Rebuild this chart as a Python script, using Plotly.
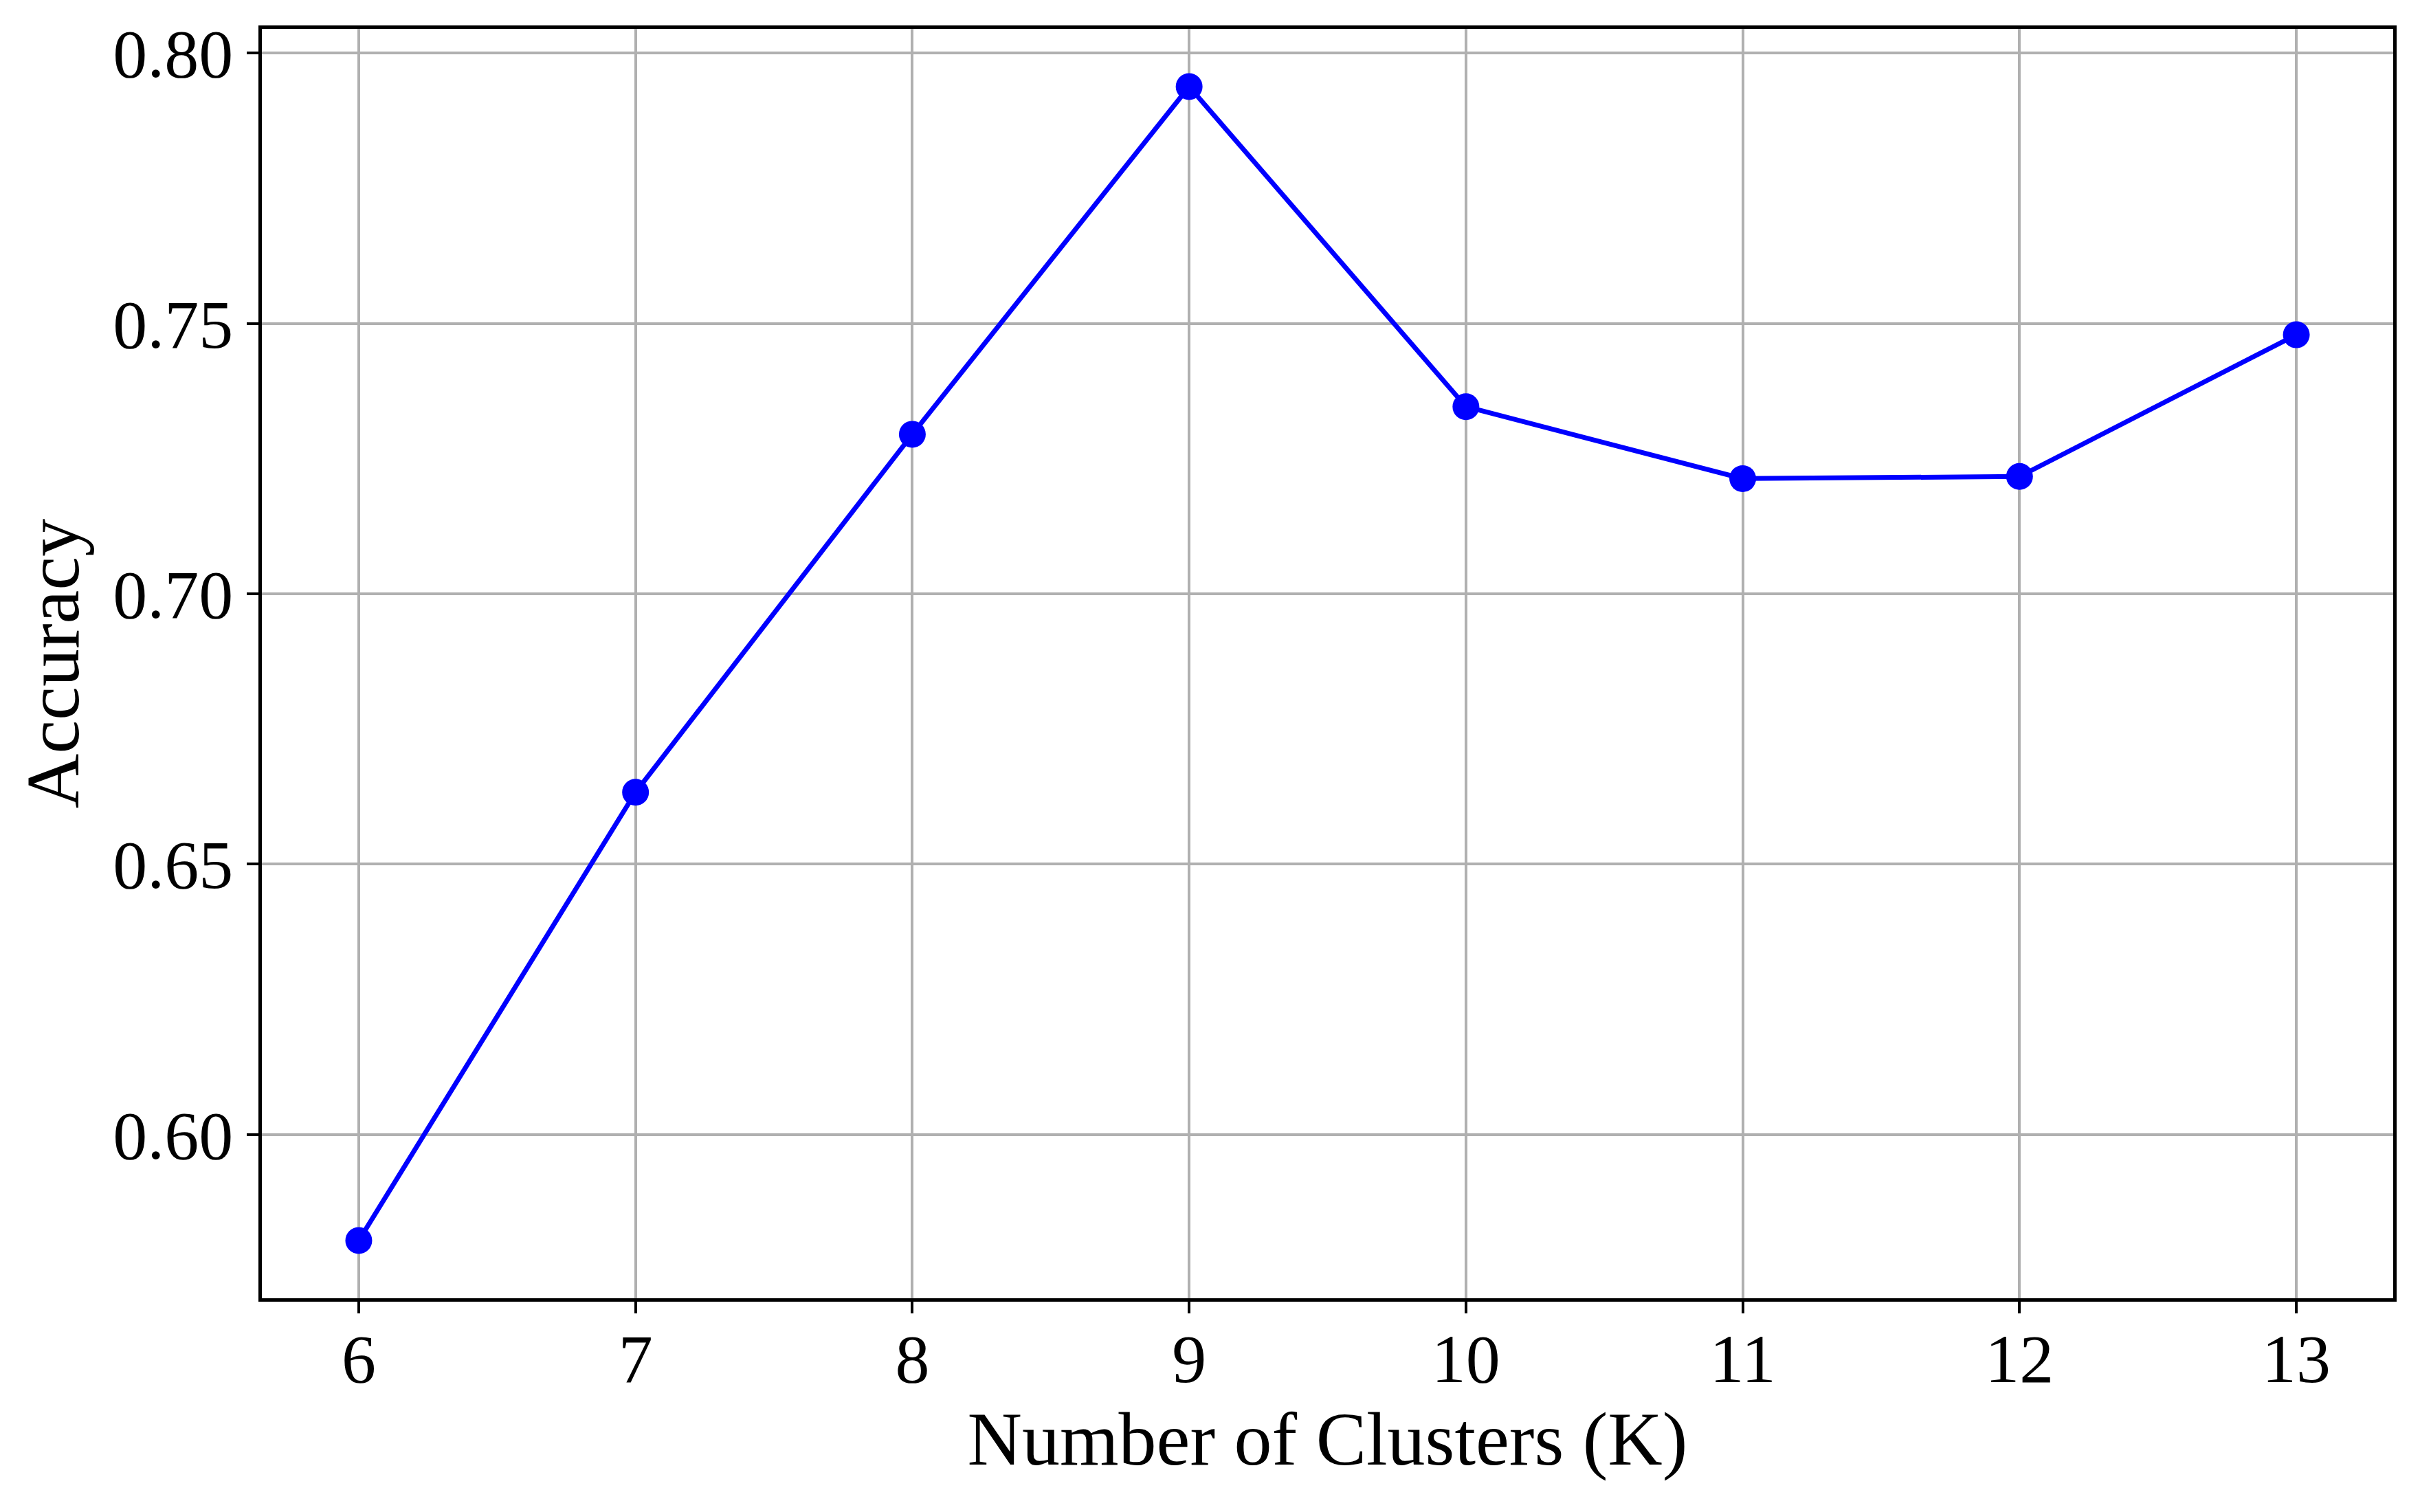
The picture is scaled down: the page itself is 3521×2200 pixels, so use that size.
import plotly.graph_objects as go

clusters = [6, 7, 8, 9, 10, 11, 12, 13]
accuracy = [0.5804, 0.6633, 0.7295, 0.7938, 0.7346, 0.7213, 0.7217, 0.7479]
x_ticks = [6, 7, 8, 9, 10, 11, 12, 13]
y_ticks = [0.60, 0.65, 0.70, 0.75, 0.80]
y_tick_labels = ["0.60", "0.65", "0.70", "0.75", "0.80"]

FONT = "Liberation Serif, DejaVu Serif, serif"

fig = go.Figure()
fig.add_trace(go.Scatter(
    x=clusters, y=accuracy, mode="lines+markers",
    line=dict(color="#0000ff", width=7),
    marker=dict(color="#0000ff", size=39, line=dict(width=0)),
    showlegend=False,
))

ymin, ymax = min(accuracy), max(accuracy)
pad = (ymax - ymin) * 0.05
xpad = (max(clusters) - min(clusters)) * 0.05

# page body has an 8px default margin, so the figure is 8px smaller
fig.update_layout(
    width=3513, height=2192,
    margin=dict(l=373, r=39, t=34, b=311, autoexpand=False),
    paper_bgcolor="white", plot_bgcolor="white",
    font=dict(family=FONT, size=100, color="black"),
)
fig.update_xaxes(
    range=[min(clusters) - xpad, max(clusters) + xpad],
    tickmode="array", tickvals=x_ticks, ticktext=[str(v) for v in x_ticks],
    showgrid=True, gridcolor="#b0b0b0", gridwidth=4,
    showline=True, linecolor="black", linewidth=4.5, mirror=True,
    ticks="outside", ticklen=17, tickwidth=4, tickcolor="black",
    zeroline=False, automargin=False, ticklabelstandoff=-20,
    title=dict(text="Number of Clusters (K)", font=dict(size=110, family=FONT), standoff=16),
    tickfont=dict(size=100, family=FONT),
)
fig.update_yaxes(
    range=[ymin - pad, ymax + pad],
    tickmode="array", tickvals=y_ticks, ticktext=y_tick_labels,
    showgrid=True, gridcolor="#b0b0b0", gridwidth=4,
    showline=True, linecolor="black", linewidth=4.5, mirror=True,
    ticks="outside", ticklen=17, tickwidth=4, tickcolor="black",
    zeroline=False, automargin=False,
    title=dict(text="Accuracy", font=dict(size=110, family=FONT), standoff=14),
    tickfont=dict(size=100, family=FONT),
)

fig.write_html("out.html")
